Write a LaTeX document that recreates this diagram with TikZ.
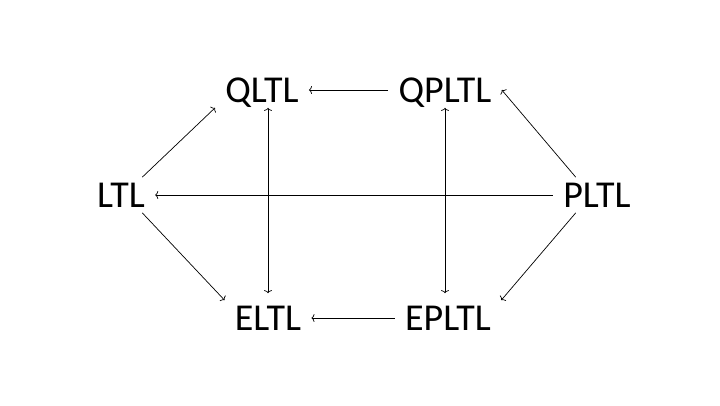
\documentclass[tikz,border=0pt]{standalone}
\usepackage{fontspec}
\setmainfont{Carlito}
\usepackage{tikz}
\usetikzlibrary{calc,arrows.meta}

\begin{document}
\begin{tikzpicture}[x=1pt, y=-1pt, >={To[length=3pt,width=8pt]},
    logic/.style={inner xsep=10pt, inner ysep=5pt, text height=25pt, text depth=0pt,
        font=\fontsize{38}{40}\selectfont},
    every path/.style={line width=0.7pt}]
        \useasboundingbox (0,0) rectangle (720,405);

        \node[logic] (QLTL) at (262,90) {QLTL};
        \node[logic] (QPLTL) at (445,90) {QPLTL};
        \node[logic] (LTL) at (121,195) {LTL};
        \node[logic] (PLTL) at (597,195) {PLTL};
        \node[logic] (ELTL) at (268,318) {ELTL};
        \node[logic] (EPLTL) at (448,318) {EPLTL};

        \draw[->] (LTL.40)--(QLTL.south west);
        \draw[->] (LTL.-40)--(ELTL.north west);
        \draw[->] (QPLTL)--(QLTL);
        \draw[->] (EPLTL)--(ELTL);
        \draw[->] (PLTL.140)--(QPLTL.east);
        \draw[->] (PLTL.220)--(EPLTL.north east);
        \draw[->] (PLTL)--(LTL);
        \draw[<->, shorten <=7pt] (ELTL.north)--(ELTL.north |- QLTL.south);
        \draw[<->, shorten >=7pt] (QPLTL.south)--(QPLTL.south |- EPLTL.north);

    \end{tikzpicture}
\end{document}
